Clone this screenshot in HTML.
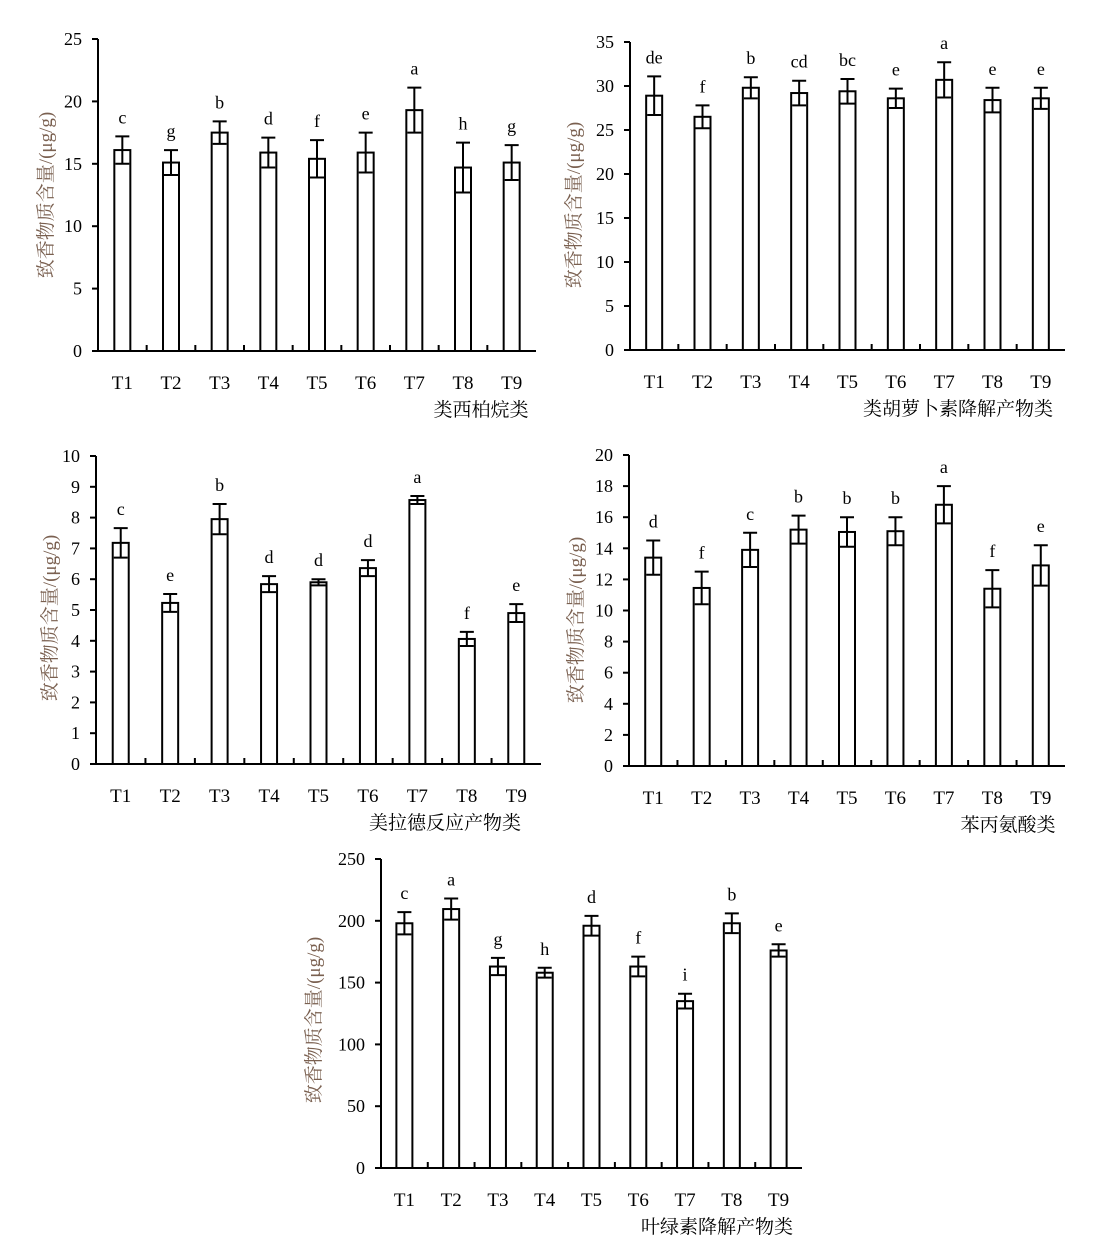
<!DOCTYPE html>
<html><head><meta charset="utf-8">
<style>
html,body{margin:0;padding:0;background:#fff;}
svg{display:block;}
text{font-family:"Liberation Serif","Noto Serif CJK SC",serif;}
</style></head>
<body>
<svg id="chart" width="1109" height="1253" viewBox="0 0 1109 1253" xmlns="http://www.w3.org/2000/svg"></svg>
<script>
const categories = ["T1","T2","T3","T4","T5","T6","T7","T8","T9"];

const valuesA = [16.1,15.1,17.5,15.9,15.4,15.9,19.3,14.7,15.1];
const errorsA = [1.1,1.0,0.9,1.2,1.5,1.6,1.8,2.0,1.4];
const lettersA = ["c","g","b","d","f","e","a","h","g"];
const ticksA = [0,5,10,15,20,25];

const valuesB = [28.9,26.5,29.8,29.2,29.4,28.6,30.7,28.4,28.6];
const errorsB = [2.2,1.3,1.2,1.4,1.4,1.1,2.0,1.4,1.2];
const lettersB = ["de","f","b","cd","bc","e","a","e","e"];
const ticksB = [0,5,10,15,20,25,30,35];

const valuesC = [7.18,5.23,7.95,5.84,5.9,6.36,8.57,4.06,4.9];
const errorsC = [0.48,0.29,0.49,0.26,0.1,0.26,0.13,0.23,0.29];
const lettersC = ["c","e","b","d","d","d","a","f","e"];
const ticksC = [0,1,2,3,4,5,6,7,8,9,10];

const valuesD = [13.4,11.45,13.9,15.2,15.05,15.1,16.8,11.4,12.9];
const errorsD = [1.1,1.05,1.1,0.9,0.95,0.9,1.2,1.2,1.3];
const lettersD = ["d","f","c","b","b","b","a","f","e"];
const ticksD = [0,2,4,6,8,10,12,14,16,18,20];

const valuesE = [198,209.5,163,158,196,163,135,198,176];
const errorsE = [9,8.5,7,4,8,8,6,8,5];
const lettersE = ["c","a","g","h","d","f","i","b","e"];
const ticksE = [0,50,100,150,200,250];

const svg = document.getElementById('chart');
const NS = "http://www.w3.org/2000/svg";
function mk(tag, attrs, parent){
  const e = document.createElementNS(NS, tag);
  for (const k in attrs) e.setAttribute(k, attrs[k]);
  (parent||svg).appendChild(e);
  return e;
}

function drawChart(id, cfg, values, errors, letters, ticks){
  const g = mk('g', {});
  
  
  const x0 = cfg.x0, x1 = cfg.x1, y0 = cfg.y0, yTop = cfg.yTop, max = ticks[ticks.length-1];
  const yScale = v => y0 - (v / max) * (y0 - yTop);
  const band = (x1 - x0) / categories.length;
  const xCenter = i => x0 + band * (i + 0.5);

  ticks.forEach(t => {
    const y = yScale(t);
    const tk = mk('line', {x1:x0-6, y1:y, x2:x0, y2:y, stroke:'#000','stroke-width':2}, g);
    
    
    const tl = mk('text', {x:x0-16, y:y+6, 'text-anchor':'end','font-size':18, fill:'#000'}, g);
    tl.textContent = t;
    
    
  });

  values.forEach((v, i) => {
    const cx = xCenter(i);
    const bw = 16;
    const top = yScale(v);
    const bar = mk('rect', {x:cx-bw/2, y:top, width:bw, height:y0-top, fill:'#fff', stroke:'#000','stroke-width':2}, g);
    
    
    const eTop = yScale(v + errors[i]);
    const eBot = yScale(v - errors[i]);
    const el = mk('path', {d:`M${cx},${eBot}V${eTop}M${cx-7},${eTop}H${cx+7}M${cx-7},${eBot}H${cx+7}`, stroke:'#000','stroke-width':2, fill:'none'}, g);
    
    
    const lt = mk('text', {x:cx, y:eTop-13, 'text-anchor':'middle','font-size':18, fill:'#000'}, g);
    lt.textContent = letters[i];
    
    
    const xl = mk('text', {x:cx, y:y0+38, 'text-anchor':'middle','font-size':19, fill:'#000'}, g);
    xl.textContent = categories[i];
    
    
  });
  for (let i = 1; i < categories.length; i++){
    const bx = x0 + band * i;
    const bt = mk('line', {x1:bx, y1:y0, x2:bx, y2:y0-6, stroke:'#000','stroke-width':2}, g);
    
    
  }
  const ax = mk('path', {d:`M${x0},${yTop}V${y0}H${x1}`, stroke:'#000','stroke-width':2, fill:'none'}, g);
  
  
  const yt = mk('text', {x:0, y:0, transform:`translate(${cfg.ylx},${cfg.yly}) rotate(-90)`, 'text-anchor':'middle','font-size':19, fill:'#7a6050'}, g);
  yt.textContent = '致香物质含量/(μg/g)';
  
  
  const xt = mk('text', {x:cfg.xtx, y:y0+65, 'text-anchor':'middle','font-size':19, fill:'#000'}, g);
  xt.textContent = cfg.title;
  
  
}

drawChart('chart-cembranoids', {x0:98,x1:536,y0:351,yTop:39,ylx:52,yly:195,xtx:481,title:'类西柏烷类'}, valuesA, errorsA, lettersA, ticksA);
drawChart('chart-carotenoid-degradation', {x0:630,x1:1065,y0:350,yTop:42,ylx:580,yly:205,xtx:958,title:'类胡萝卜素降解产物类'}, valuesB, errorsB, lettersB, ticksB);
drawChart('chart-maillard', {x0:96,x1:541,y0:764,yTop:456,ylx:56,yly:618,xtx:445,title:'美拉德反应产物类'}, valuesC, errorsC, lettersC, ticksC);
drawChart('chart-phenylalanine', {x0:629,x1:1065,y0:766,yTop:455,ylx:582,yly:620,xtx:1008,title:'苯丙氨酸类'}, valuesD, errorsD, lettersD, ticksD);
drawChart('chart-chlorophyll-degradation', {x0:381,x1:802,y0:1168,yTop:859,ylx:320,yly:1020,xtx:717,title:'叶绿素降解产物类'}, valuesE, errorsE, lettersE, ticksE);
</script>
</body></html>
